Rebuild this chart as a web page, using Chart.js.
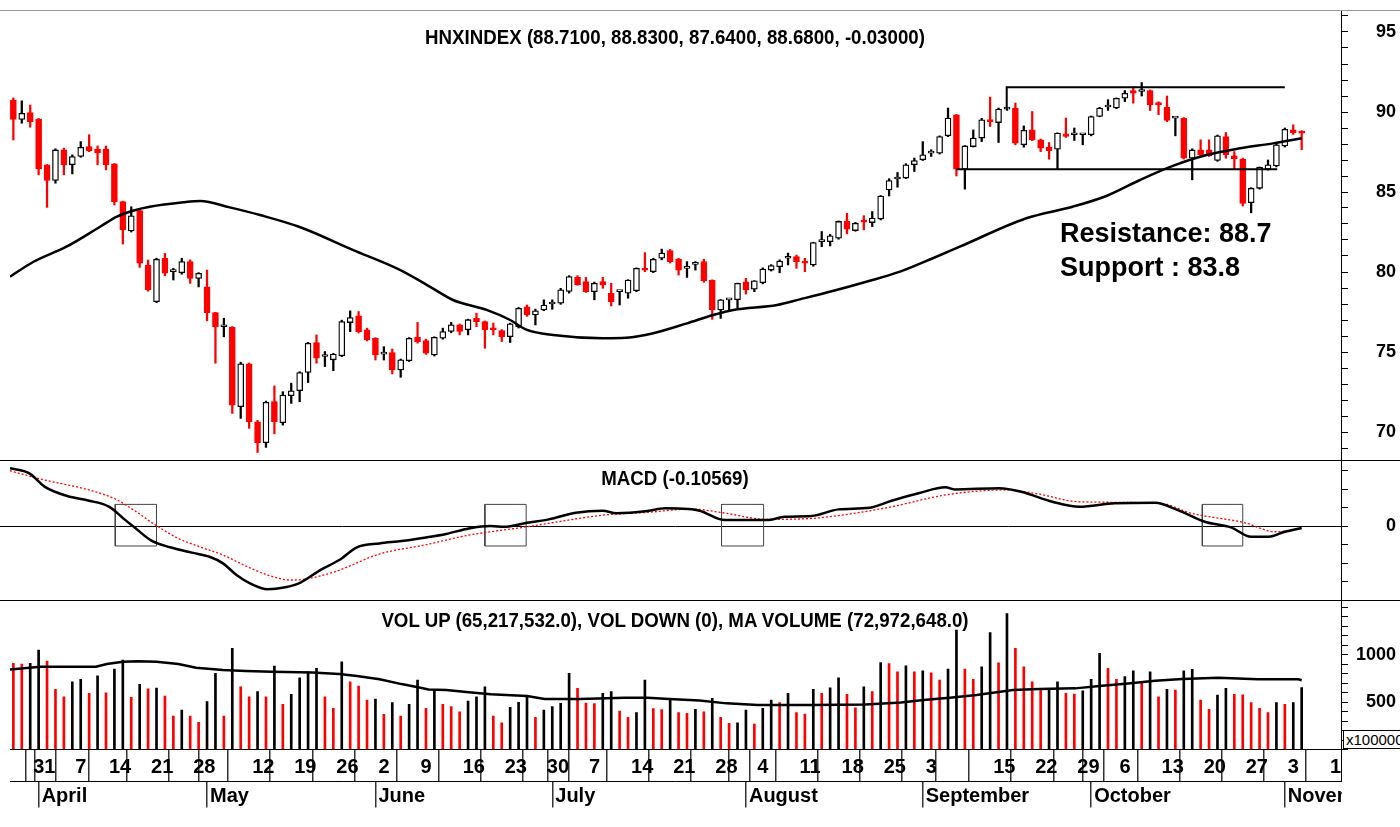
<!DOCTYPE html>
<html>
<head>
<meta charset="utf-8">
<script src="https://cdn.jsdelivr.net/npm/chart.js@4.4.1/dist/chart.umd.min.js"></script>
<style>
    body { margin: 0; background: #fff; }
    #wrap { position: relative; width: 1400px; height: 827px; overflow: hidden; background: #fff;
        font-family: "Liberation Sans", Arial, sans-serif; }
    canvas { position: absolute; left: 0; }
    .title { position: absolute; left: 0; width: 1350px; text-align: center; font-weight: bold; font-size: 21px; line-height: 26px;
        color: #000; transform: scaleX(0.89); transform-origin: 675px 0; }
    .note { position: absolute; left: 1060px; font-weight: bold; font-size: 27px; line-height: 34px; color: #000; }
    .hline { position: absolute; left: 0; width: 1400px; height: 1px; background: #000; }
</style>
</head>
<body>
<div id="wrap">
    <canvas id="price" width="1400" height="460" style="top:0"></canvas>
    <canvas id="macd" width="1400" height="140" style="top:460px"></canvas>
    <canvas id="vol" width="1400" height="227" style="top:600px"></canvas>

    <div class="hline" style="top:10px;background:#999"></div>
    <div class="hline" style="top:460px"></div>
    <div class="hline" style="top:600px"></div>
    <div class="hline" style="top:526px;width:12px"></div>

    <div class="title" style="top:24px">HNXINDEX (88.7100, 88.8300, 87.6400, 88.6800, -0.03000)</div>
    <div class="title" style="top:465px">MACD (-0.10569)</div>
    <div class="title" style="top:607px">VOL UP (65,217,532.0), VOL DOWN (0), MA VOLUME (72,972,648.0)</div>

    <div class="note" style="top:216px">Resistance: 88.7</div>
    <div class="note" style="top:250px">Support : 83.8</div>

    <!-- clip the axis labels past the right edge, like the original -->
    <div style="position:absolute;left:1342px;top:751px;width:58px;height:76px;background:#fff"></div>
    <div style="position:absolute;left:1341px;top:750px;width:1px;height:32px;background:#000"></div>
    <div style="position:absolute;left:1343px;top:730px;width:70px;height:17px;border:1px solid #000;background:#fff;
        font-size:15px;line-height:17px;padding-left:2px;">x100000</div>
</div>

<script>
// ---- price (HNX index, daily, 27 Mar - 5 Nov 2014) ----
const openP = [90.75,89.54,89.96,89.54,86.70,85.72,87.63,86.70,87.22,87.84,87.68,87.68,86.76,84.40,82.57,83.84,80.44,78.15,80.86,80.02,
    79.95,80.65,79.60,79.07,77.46,76.58,76.54,71.58,74.26,70.64,69.33,71.90,70.58,72.27,72.58,73.72,75.59,74.72,74.51,74.76,
    76.84,77.26,76.38,75.86,74.87,74.96,73.88,74.46,75.92,75.71,74.81,75.86,76.28,76.70,76.39,77.11,76.90,76.49,76.34,75.96,
    76.59,77.83,77.31,77.63,78.00,78.05,78.78,79.67,79.40,78.77,79.40,78.67,78.77,78.67,78.83,80.23,80.02,80.86,81.34,80.80,
    80.23,80.48,80.65,79.49,77.63,78.26,78.26,79.39,78.92,79.33,80.12,80.33,80.86,80.96,80.65,80.44,81.90,81.90,82.11,83.16,
    82.59,83.22,83.09,83.31,85.13,85.81,85.87,86.70,87.01,87.43,87.43,88.51,89.83,86.42,87.84,88.37,89.51,89.34,90.18,90.25,
    87.95,88.89,88.26,87.80,87.68,88.64,88.58,88.58,88.58,89.72,90.31,90.25,90.86,91.34,91.28,91.34,90.59,90.30,89.62,89.62,
    87.11,87.63,87.63,86.97,88.47,87.26,87.06,84.33,85.23,86.42,86.63,87.88,88.88,88.71];
const highP = [90.88,90.70,90.44,89.60,86.72,87.70,87.74,87.32,88.15,88.58,87.88,87.88,86.78,84.43,84.08,83.94,80.75,80.86,81.16,80.23,
    80.86,80.76,79.96,80.12,77.48,77.11,76.59,74.36,74.31,70.73,71.93,72.88,72.52,73.05,73.77,75.60,76.07,75.03,74.91,76.99,
    77.57,77.53,76.49,75.90,75.33,75.19,74.56,75.90,76.85,75.80,75.95,76.49,76.85,76.75,77.05,77.43,76.94,76.81,76.40,76.80,
    77.78,77.94,77.68,78.26,78.26,78.98,79.77,79.77,79.67,79.37,79.67,79.30,78.82,79.52,80.26,81.21,80.86,81.43,81.41,80.86,
    80.65,80.65,80.80,79.51,78.28,78.30,79.31,79.60,79.46,80.26,80.46,80.76,81.18,81.06,80.86,81.86,82.53,82.35,83.19,83.67,
    83.10,83.52,83.78,84.78,85.83,86.22,86.77,87.12,88.15,87.64,88.51,90.25,89.85,87.90,88.88,89.60,90.93,90.25,90.25,90.56,
    89.13,90.03,88.31,88.09,88.70,89.62,89.00,88.62,89.75,90.30,90.77,90.88,91.34,91.59,91.84,91.38,90.64,91.00,89.66,89.65,
    87.70,88.26,88.26,88.56,88.72,87.53,87.12,85.27,86.56,87.00,88.00,89.00,89.20,88.83];
const lowP = [88.25,89.30,89.05,86.07,84.04,85.55,86.07,86.13,87.17,87.52,86.70,86.38,84.19,81.75,82.50,80.29,78.80,78.08,79.76,79.50,
    79.86,79.29,79.07,76.95,74.30,75.95,71.16,70.85,70.23,68.72,69.04,69.88,70.43,71.79,71.89,73.09,74.30,74.09,73.83,74.71,
    76.27,76.19,75.69,74.50,74.50,73.63,73.42,74.41,75.55,74.85,74.75,75.80,76.20,76.07,76.07,76.58,75.23,76.07,75.65,75.59,
    76.50,77.23,76.69,77.58,77.67,77.98,78.68,79.17,78.72,78.26,78.98,77.88,77.94,78.36,78.77,80.02,79.96,80.76,80.56,79.81,
    79.66,80.12,79.36,77.04,77.10,77.63,77.73,78.62,78.77,79.26,80.06,79.95,80.44,80.23,80.02,80.36,81.58,81.63,82.05,82.38,
    82.55,82.63,82.84,83.25,84.75,85.30,85.83,86.28,86.97,87.22,87.37,88.46,86.00,85.18,87.81,88.15,89.09,88.09,90.10,87.95,
    87.80,88.21,87.52,87.05,86.42,88.41,88.22,87.95,88.51,89.70,90.10,90.20,90.65,90.55,91.00,90.09,89.83,89.40,88.51,87.06,
    85.76,87.22,87.22,86.92,87.11,86.42,84.12,83.70,85.18,86.37,86.57,87.81,88.60,87.64];
const closeP = [89.54,89.92,89.39,86.44,85.72,87.63,86.70,87.22,87.80,87.57,87.46,86.70,84.40,82.63,83.51,80.55,78.88,80.80,79.92,80.02,
    80.65,79.60,79.92,77.46,76.58,76.58,71.68,74.26,70.64,69.33,71.86,70.64,72.31,72.58,73.72,75.55,74.61,74.72,74.87,76.90,
    77.15,76.27,75.75,74.81,74.87,73.88,74.51,75.86,75.65,74.92,75.92,76.28,76.70,76.28,77.02,76.90,76.39,76.39,75.96,76.76,
    77.73,77.31,77.58,77.94,78.00,78.89,79.71,79.19,78.77,79.30,79.19,78.15,78.77,79.50,80.23,80.12,80.80,81.18,80.65,80.12,
    80.23,80.48,79.45,77.63,78.26,78.26,79.29,78.88,79.45,80.19,80.40,80.69,80.86,80.65,80.55,81.84,81.90,82.26,83.16,82.68,
    83.05,83.12,83.37,84.75,85.72,85.81,86.70,86.97,87.33,87.43,88.47,89.62,86.42,87.88,88.37,89.51,89.40,90.18,90.18,88.05,
    88.85,88.26,87.74,87.59,88.68,88.47,88.58,88.58,89.72,90.25,90.31,90.86,91.17,91.17,91.28,90.45,90.45,89.47,89.62,87.11,
    87.63,87.33,87.27,88.51,87.33,87.06,84.29,85.23,86.55,86.70,87.95,88.92,88.71,88.68];

// moving average on the price panel
const maIdx = [-0.4,2.4,6.3,10.3,12.3,14.2,16.2,20.2,22.2,25.7,29.3,34.0,40.3,45.9,49.8,52.2,56.2,59.0,61.0,64.1,70.0,
    72.8,76.0,80.0,83.1,85.5,90.7,93.4,97.3,101.3,105.3,109.2,112.4,120.3,125.8,129.8,133.8,137.7,141.7,145.7,149.6,153.0];
const maVal = [79.71,80.64,81.58,82.83,83.46,83.83,84.08,84.36,84.44,84.04,83.56,82.81,81.38,80.13,78.98,78.25,77.63,77.00,76.38,76.06,75.86,
    75.89,76.17,76.79,77.31,77.63,77.94,78.29,78.81,79.39,80.02,80.86,81.58,83.36,84.08,84.75,85.75,86.63,87.31,87.73,88.04,88.36];

// hand-drawn resistance / support lines
const resistIdx = [117.97, 117.97, 151];
const resistVal = [90.19, 91.54, 91.54];
const supportIdx = [112, 150.1];
const supportVal = [86.42, 86.42];

// ---- MACD ----
const macdIdx = [-0.4,1.9,3.7,6.4,9.0,11.4,13.3,14.3,16.4,18.6,21.2,23.3,24.9,26.5,28.1,30.2,32.3,33.9,36.6,38.7,40.8,43.5,46.1,
    48.8,51.4,54.1,56.7,58.3,61.0,63.6,66.8,70.0,71.6,75.3,77.4,80.1,81.5,84.5,89.5,91.6,94.8,98.0,101.7,104.3,107.5,110.7,
    111.8,117.1,119.7,123.4,126.6,130.8,135.6,138.3,141.5,144.6,147.0,149.1,151.0,153.0];
const macdVal = [3.12,2.85,2.13,1.62,1.37,1.04,0.32,-0.04,-0.79,-1.15,-1.44,-1.66,-2.02,-2.65,-3.10,-3.42,-3.31,-3.10,-2.34,-1.84,-1.15,-0.94,-0.81,
    -0.63,-0.43,-0.13,0.00,-0.04,0.18,0.36,0.72,0.83,0.69,0.81,0.96,0.92,0.83,0.32,0.32,0.50,0.54,0.90,0.99,1.37,1.77,2.09,
    1.98,2.04,1.85,1.31,1.04,1.23,1.26,0.86,0.23,-0.07,-0.58,-0.58,-0.31,-0.11];
const sigIdx = [-0.4,3.7,9.0,12.2,14.3,16.9,19.6,22.3,24.9,27.6,30.2,32.9,34.5,38.2,43.5,48.8,54.1,56.7,61.0,64.7,70.0,75.3,
    80.6,84.2,89.5,94.8,99.0,104.3,110.7,117.6,121.3,126.6,136.2,139.9,146.2,149.9,153.0];
const sigVal = [2.99,2.49,1.95,1.44,0.86,0.05,-0.67,-1.15,-1.57,-2.16,-2.65,-2.92,-2.88,-2.47,-1.51,-1.03,-0.49,-0.31,-0.04,0.23,0.59,0.74,
    0.92,0.72,0.36,0.41,0.63,1.04,1.68,1.95,1.77,1.31,1.23,0.69,0.18,-0.31,-0.13];
// crossover boxes: index span, MACD span
const boxFrom = [12.1, 56.0, 84.1, 141.2];
const boxTo = [17.0, 60.9, 89.1, 146.0];
const boxLo = -1.08, boxHi = 1.17;

// ---- volume (x100000) ----
const vol = [907,900,907,1047,931,633,556,714,739,591,777,598,847,942,549,686,638,646,563,352,
    416,352,286,504,802,352,1065,661,556,609,556,879,475,581,756,819,854,556,433,924,
    714,668,521,532,370,493,352,475,731,433,626,475,451,398,511,556,661,352,282,444,
    496,556,338,416,451,486,802,644,490,484,591,609,405,338,388,731,430,420,521,388,
    381,423,398,538,338,275,282,416,268,433,521,493,591,388,374,633,591,651,756,581,
    440,661,609,915,905,819,882,819,830,809,731,847,1258,847,739,872,1233,914,1433,1065,
    872,714,628,640,714,591,584,619,739,1012,854,739,767,830,696,819,556,633,626,830,
    844,521,423,574,644,581,575,493,433,388,493,475,493,652];
const vmaIdx = [-0.4,3.2,9.8,11.1,13.0,14.8,17.0,19.6,21.7,24.9,27.6,30.7,35.5,38.7,40.8,43.5,46.1,48.2,49.3,51.4,54.1,56.7,
    61.0,63.1,67.3,72.6,75.3,77.9,81.5,84.7,88.4,94.8,101.2,105.4,108.1,111.2,114.4,118.7,121.8,126.1,129.3,132.4,135.6,
    138.8,143.1,147.8,152.6,153.0];
const vmaVal = [844,872,872,900,924,931,924,900,861,837,826,819,812,795,774,739,689,654,633,626,602,581,
    563,532,532,546,546,532,516,486,468,468,475,496,521,546,574,626,637,644,672,696,725,
    742,756,739,739,730];

// ---- time axis ----
const weekIdx = [2,7,11,16,21,23,28,33,38,43,48,53,58,63,68,73,78,83,88,93,98,103,108,111,116,121,126,131,136,141,146,151,156];
const weekLbl = ['31','7','14','21','28','','12','19','26','2','9','16','23','30','7','14','21','28','4','11','18','25','3','','15','22','29','6','13','20','27','3','10'];
const monthIdx = [3,23,43,64,87,108,128,151];
const monthLbl = ['April','May','June','July','August','September','October','November'];

const RED = '#ff0000';
const BLACK = '#000000';
const xMin = -0.4, xMax = 157.67;
const labelFont = { family: '"Liberation Sans", Arial, sans-serif', size: 20, weight: 'bold' };
const axisFont = { family: '"Liberation Sans", Arial, sans-serif', size: 18, weight: 'bold' };

Chart.defaults.animation = false;
Chart.defaults.responsive = false;
Chart.defaults.plugins.legend.display = false;
Chart.defaults.plugins.tooltip.enabled = false;

const pts = (xs, ys) => xs.map((x, k) => ({ x: x, y: ys[k] }));
const hiddenX = { type: 'linear', min: xMin, max: xMax, display: false, offset: false };

function rightAxis(min, max, step, labels) {
    return {
        position: 'right', min: min, max: max,
        // fixed width, and no extra room for the end labels: the panel must fill its strip
        afterFit: (s) => { s.width = 55; s.paddingTop = 0; s.paddingBottom = 0; },
        border: { display: true, color: BLACK, width: 1 },
        grid: { drawOnChartArea: false, drawTicks: true, tickLength: 7, tickColor: BLACK },
        ticks: {
            stepSize: step, includeBounds: false, autoSkip: false, crossAlign: 'far',
            color: BLACK, font: axisFont, padding: 2,
            callback: (v) => labels.includes(v) ? String(v) : ''
        }
    };
}

// price panel
const candleUp = closeP.map((c, i) => c >= openP[i]);
new Chart(document.getElementById('price'), {
    data: {
        datasets: [
            { type: 'line', data: pts(maIdx, maVal), borderColor: BLACK, borderWidth: 2.5, pointRadius: 0,
              cubicInterpolationMode: 'monotone', order: 0 },
            { type: 'line', data: pts(resistIdx, resistVal), borderColor: BLACK, borderWidth: 2, pointRadius: 0, order: 0 },
            { type: 'line', data: pts(supportIdx, supportVal), borderColor: BLACK, borderWidth: 2, pointRadius: 0, order: 0 },
            {
                type: 'bar', grouped: false, order: 1,
                data: openP.map((o, i) => ({ x: i, y: [o, closeP[i]] })),
                backgroundColor: candleUp.map(u => u ? '#ffffff' : RED),
                borderColor: candleUp.map(u => u ? BLACK : RED),
                borderWidth: 1.3, borderSkipped: false, barThickness: 6, minBarLength: 2
            },
            {
                type: 'bar', grouped: false, order: 2,
                data: lowP.map((l, i) => ({ x: i, y: [l, highP[i]] })),
                backgroundColor: candleUp.map(u => u ? BLACK : RED),
                barThickness: 1.6
            }
        ]
    },
    options: {
        layout: { autoPadding: false, padding: { left: 10, top: 10, right: 4, bottom: 0 } },
        scales: {
            x: hiddenX,
            y: rightAxis(68.25, 96.375, 1, [70, 75, 80, 85, 90, 95])
        }
    }
});

// MACD panel
const boxData = [];
boxFrom.forEach((a, k) => {
    const b = boxTo[k];
    boxData.push({ x: a, y: boxLo }, { x: b, y: boxLo }, { x: b, y: boxHi }, { x: a, y: boxHi }, { x: a, y: boxLo }, { x: b, y: null });
});
const macdY = rightAxis(-4.0, 3.57, 1, [0]);
macdY.grid = { drawOnChartArea: true, drawTicks: true, tickLength: 7, tickColor: BLACK,
    color: (c) => c.tick && c.tick.value === 0 ? BLACK : 'rgba(0,0,0,0)', lineWidth: 1 };
new Chart(document.getElementById('macd'), {
    data: {
        datasets: [
            { type: 'line', data: pts(macdIdx, macdVal), borderColor: BLACK, borderWidth: 2.5, pointRadius: 0,
              cubicInterpolationMode: 'monotone' },
            { type: 'line', data: pts(sigIdx, sigVal), borderColor: RED, borderWidth: 1.3, borderDash: [2, 2], pointRadius: 0,
              cubicInterpolationMode: 'monotone' },
            { type: 'line', data: boxData, borderColor: '#444', borderWidth: 1, pointRadius: 0, spanGaps: false }
        ]
    },
    options: {
        layout: { autoPadding: false, padding: { left: 10, top: 0, right: 4, bottom: 0 } },
        scales: { x: hiddenX, y: macdY }
    }
});

// volume panel + date axis
const dayTicks = [...new Set(weekIdx.concat(monthIdx))].sort((a, b) => a - b);
const volColor = vol.map((v, i) => (i > 0 && v > vol[i - 1]) ? BLACK : RED);
new Chart(document.getElementById('vol'), {
    data: {
        datasets: [
            { type: 'line', data: pts(vmaIdx, vmaVal), borderColor: BLACK, borderWidth: 2.5, pointRadius: 0, order: 0 },
            {
                type: 'bar', grouped: false, order: 1,
                data: vol.map((v, i) => ({ x: i, y: v })),
                backgroundColor: volColor, barThickness: 2
            }
        ]
    },
    options: {
        layout: { autoPadding: false, padding: { left: 10, top: 0, right: 4, bottom: 19.5 } },
        scales: {
            x: {
                type: 'linear', position: 'bottom', min: xMin, max: xMax, offset: false,
                afterBuildTicks: (s) => { s.ticks = dayTicks.map(v => ({ value: v })); },
                afterFit: (s) => { s.height = 32; s.paddingLeft = 0; s.paddingRight = 0; },
                border: { display: true, color: BLACK, width: 1 },
                grid: { drawOnChartArea: false, drawTicks: true, tickLength: 32, color: '#333', lineWidth: 1.5 },
                ticks: {
                    autoSkip: false, maxRotation: 0, minRotation: 0, align: 'start', labelOffset: 3, padding: -26,
                    color: BLACK, font: labelFont,
                    callback: (v) => { const k = weekIdx.indexOf(v); return k >= 0 ? weekLbl[k] : ''; }
                }
            },
            x2: {
                type: 'linear', position: 'bottom', min: xMin, max: xMax, offset: false,
                afterBuildTicks: (s) => { s.ticks = monthIdx.map(v => ({ value: v })); },
                afterFit: (s) => { s.height = 26; s.paddingLeft = 0; s.paddingRight = 0; },
                border: { display: true, color: BLACK, width: 1 },
                grid: { drawOnChartArea: false, drawTicks: true, tickLength: 26, color: '#333', lineWidth: 1.5 },
                ticks: {
                    autoSkip: false, maxRotation: 0, minRotation: 0, align: 'start', labelOffset: 3, padding: -23,
                    color: BLACK, font: labelFont,
                    callback: (v) => monthLbl[monthIdx.indexOf(v)]
                }
            },
            y: rightAxis(0, 1575, 100, [500, 1000])
        }
    }
});
</script>
</body>
</html>
